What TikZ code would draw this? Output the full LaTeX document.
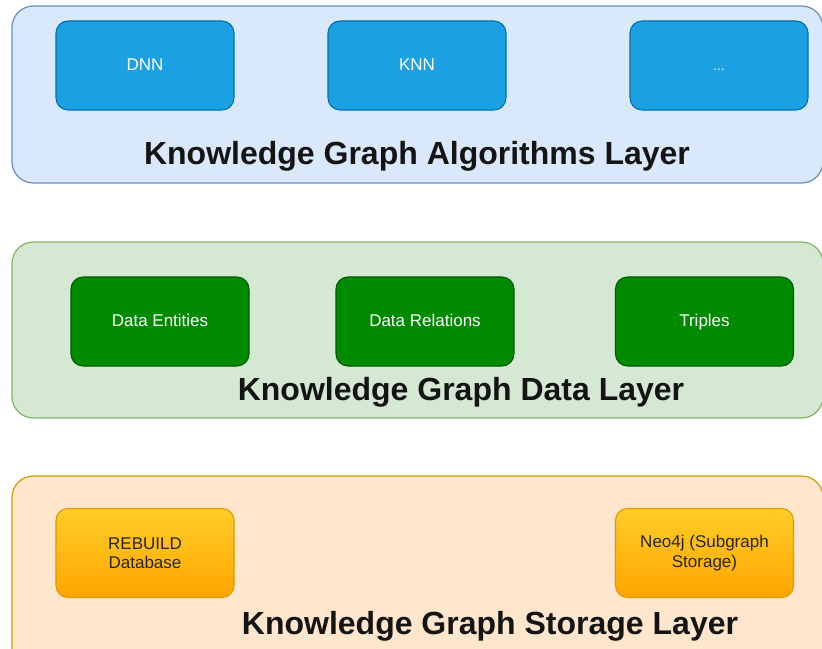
\documentclass[tikz,border=0pt]{standalone}
\usepackage{fontspec}
\setmainfont{Liberation Sans}
\begin{document}
\begin{tikzpicture}[x=0.75pt, y=-0.75pt,
  layer/.style={line width=0.9pt, rounded corners=16pt},
  item/.style={rectangle, rounded corners=9pt, line width=0.8pt,
    minimum width=133.5pt, minimum height=66.75pt, inner sep=2pt,
    align=center, font=\fontsize{12.75}{14.5}\selectfont},
  onerow/.style={text height=9.2pt, text depth=2.4pt},
  algbox/.style={item, onerow, fill=algfill, draw=algdraw, text=white},
  databox/.style={item, onerow, fill=datafill, draw=datadraw, text=white},
  storebox/.style={item, top color=storetop, bottom color=storebot, draw=storedraw, text=black!85},
  title/.style={anchor=base, font=\bfseries\fontsize{24}{28}\selectfont, text=black!92}]
\definecolor{algbg}{HTML}{DAE8FC}
\definecolor{algline}{HTML}{6C8EBF}
\definecolor{algfill}{HTML}{1BA1E2}
\definecolor{algdraw}{HTML}{006EAF}
\definecolor{databg}{HTML}{D5E8D4}
\definecolor{dataline}{HTML}{82B366}
\definecolor{datafill}{HTML}{008A00}
\definecolor{datadraw}{HTML}{005700}
\definecolor{storebg}{HTML}{FFE6CC}
\definecolor{storeline}{HTML}{D79B00}
\definecolor{storetop}{HTML}{FFCD28}
\definecolor{storebot}{HTML}{FFA500}
\definecolor{storedraw}{HTML}{D79B00}

\useasboundingbox (0,0) rectangle (822,649);
\clip (0,0) rectangle (822,649);

% layer containers
\draw[layer, fill=algbg, draw=algline] (12,6) rectangle (823,183);
\draw[layer, fill=databg, draw=dataline] (12,242) rectangle (823,418);
\draw[layer, fill=storebg, draw=storeline] (12,476) rectangle (823,700);

% algorithms layer
\node[algbox] (dnn) at (145,65.5) {DNN};
\node[algbox, font=\fontsize{10}{11}\selectfont] (more) at (719,65.5) {...};
\node[algbox] (knn) at (417,65.5) {KNN};
\node[title] (algtitle) at (417,165) {Knowledge Graph Algorithms Layer};

% data layer
\node[databox] (entities) at (160,321.5) {Data Entities};
\node[databox] (relations) at (425,321.5) {Data Relations};
\node[databox] (triples) at (704.5,321.5) {Triples};
\node[title] (datatitle) at (461,400) {Knowledge Graph Data Layer};

% storage layer
\node[storebox] (rebuild) at (145,553) {REBUILD\\Database};
\node[storebox] (neo) at (704.5,553) {Neo4j (Subgraph\\Storage)};
\node[title] (storetitle) at (490,634) {Knowledge Graph Storage Layer};
\end{tikzpicture}
\end{document}
